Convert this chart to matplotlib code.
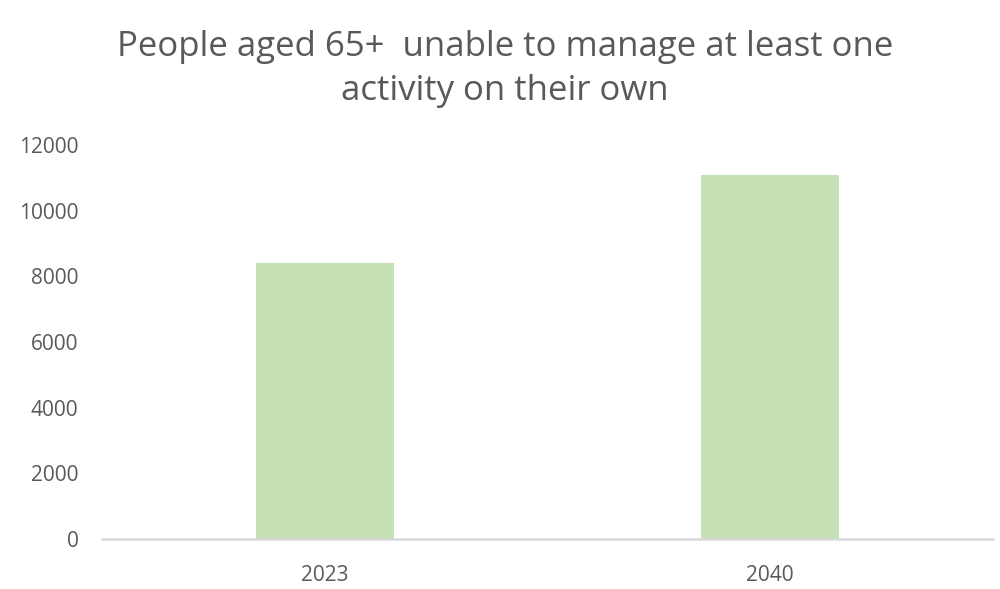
import matplotlib
matplotlib.use("Agg")
import matplotlib.pyplot as plt

categories = ["2023", "2040"]
values = [8410, 11080]
yticks = [0, 2000, 4000, 6000, 8000, 10000, 12000]
title = "People aged 65+  unable to manage at least one\nactivity on their own"

plt.rcParams['font.family'] = ['Open Sans', 'DejaVu Sans']

fig = plt.figure(figsize=(10, 5.89), dpi=100)
ax = fig.add_axes([0.102, 0.0849, 0.891, 0.6689])
x = range(len(categories))
ax.bar(x, values, width=0.31, color="#c5e0b4")
ax.set_xlim(-0.5, 1.5)
ax.set_ylim(0, 12000)
ax.set_yticks(yticks)
ax.set_yticklabels([str(t) for t in yticks])
ax.set_xticks(list(x))
ax.set_xticklabels(categories)
for s in ["top", "right", "left"]:
    ax.spines[s].set_visible(False)
ax.spines["bottom"].set_color("#d9d9d9")
ax.spines["bottom"].set_linewidth(1.8)
ax.tick_params(axis="y", length=0, pad=17, labelsize=15, labelcolor="#595959")
ax.tick_params(axis="x", length=0, pad=19, labelsize=15, labelcolor="#595959")

fig.text(0.505, 0.883, title, ha="center", va="center", fontsize=25,
         color="#595959", linespacing=1.38)

fig.savefig("out.png", dpi=100)
